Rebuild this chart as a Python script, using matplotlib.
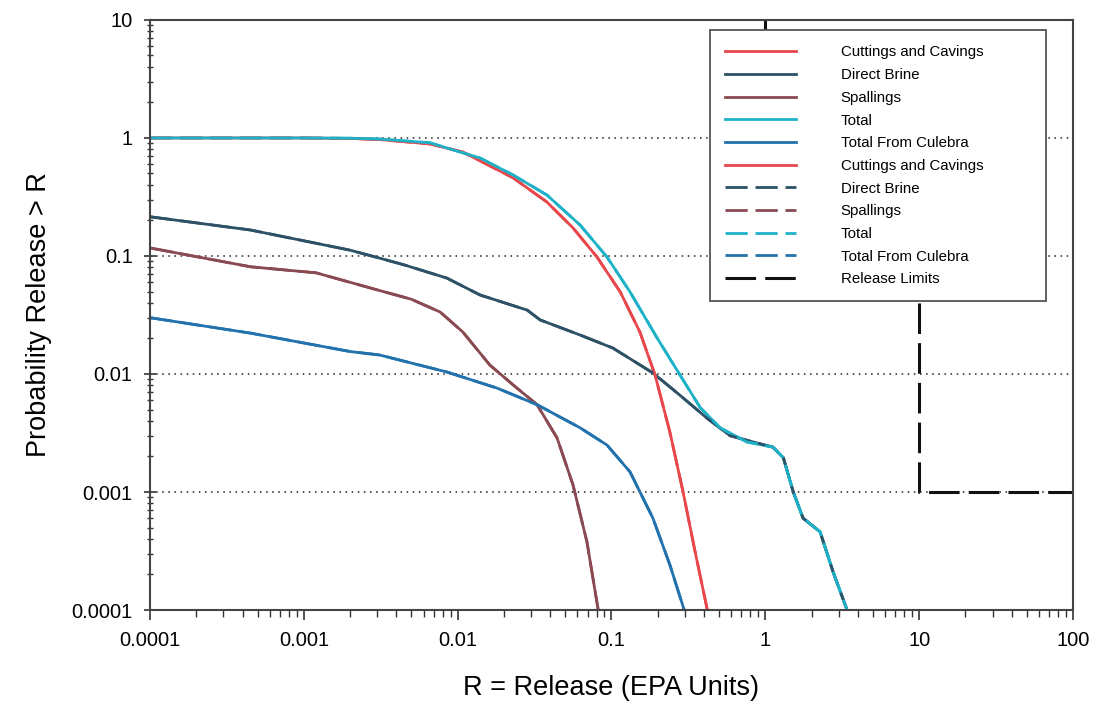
import matplotlib
matplotlib.use('Agg')
import matplotlib.pyplot as plt

plt.rcParams['font.family'] = ['Liberation Sans', 'DejaVu Sans']

# CCDF data (release in EPA units, probability > R)
cuttings_x = [0.0001, 0.001, 0.002, 0.0031, 0.0066, 0.0108, 0.014, 0.0229, 0.038, 0.0562, 0.0805,
              0.114, 0.153, 0.192, 0.24, 0.292, 0.35, 0.42]
cuttings_y = [1.0, 1.0, 0.99, 0.97, 0.89, 0.76, 0.64, 0.46, 0.287, 0.173, 0.098,
              0.0496, 0.0227, 0.0098, 0.0032, 0.001, 0.00031, 0.0001]

brine_x = [0.0001, 0.00045, 0.002, 0.0031, 0.0045, 0.0085, 0.014, 0.0283, 0.0344, 0.0625, 0.102, 0.186,
           0.279, 0.42, 0.59, 0.885, 1.12, 1.31, 1.52, 1.76, 2.27, 2.76, 3.4]
brine_y = [0.215, 0.166, 0.112, 0.096, 0.084, 0.065, 0.0467, 0.0348, 0.0287, 0.0214, 0.0166, 0.0102,
           0.0066, 0.0042, 0.003, 0.0026, 0.0024, 0.00195, 0.001, 0.0006, 0.00046, 0.00021, 0.0001]

spall_x = [0.0001, 0.00045, 0.0012, 0.0031, 0.005, 0.0077, 0.0108, 0.0162, 0.0229, 0.0328, 0.0443,
           0.0562, 0.0692, 0.082]
spall_y = [0.117, 0.081, 0.072, 0.051, 0.043, 0.0335, 0.0227, 0.0119, 0.0081, 0.0055, 0.00287,
           0.00115, 0.00038, 0.0001]

total_x = [0.0001, 0.001, 0.002, 0.0031, 0.0066, 0.014, 0.0229, 0.038, 0.0625, 0.0935, 0.132,
           0.198, 0.279, 0.377, 0.508, 0.762, 1.12, 1.31, 1.52, 1.76, 2.27, 2.76, 3.4]
total_y = [1.0, 1.0, 0.995, 0.98, 0.91, 0.676, 0.486, 0.329, 0.183, 0.098, 0.0496,
           0.0202, 0.0098, 0.0052, 0.0035, 0.00265, 0.0024, 0.00195, 0.001, 0.0006, 0.00046, 0.00021, 0.0001]

culebra_x = [0.0001, 0.00045, 0.002, 0.0031, 0.0085, 0.018, 0.0328, 0.0625, 0.0935, 0.132,
             0.186, 0.24, 0.297]
culebra_y = [0.030, 0.0222, 0.0155, 0.0145, 0.0104, 0.0076, 0.0055, 0.0035, 0.0025, 0.00148,
             0.0006, 0.00024, 0.0001]

# EPA release limits (step)
limit_x = [1, 1, 10, 10, 100]
limit_y = [10, 0.1, 0.1, 0.001, 0.001]

series = [
    ('Cuttings and Cavings', cuttings_x, cuttings_y, '#e8484c'),
    ('Direct Brine', brine_x, brine_y, '#2d5166'),
    ('Spallings', spall_x, spall_y, '#8a4a52'),
    ('Total', total_x, total_y, '#1eb2c8'),
    ('Total From Culebra', culebra_x, culebra_y, '#2272ae'),
]

fig = plt.figure(figsize=(10.98, 7.08), dpi=100)
ax = fig.add_axes([0.1366, 0.1384, 0.8406, 0.8334])

for name, xs, ys, c in series:
    ax.plot(xs, ys, color=c, lw=2.0, label=name, solid_joinstyle='round')
for name, xs, ys, c in series:
    ax.plot(xs, ys, color=c, lw=2.0, dashes=(8, 2.8), label=name)
ax.plot(limit_x, limit_y, color='#111111', lw=2.2, dashes=(10, 3), label='Release Limits')

ax.set_xscale('log')
ax.set_yscale('log')
ax.set_xlim(0.0001, 100)
ax.set_ylim(0.0001, 10)

xt = [0.0001, 0.001, 0.01, 0.1, 1, 10, 100]
yt = [0.0001, 0.001, 0.01, 0.1, 1, 10]
ax.set_xticks(xt)
ax.set_xticklabels(['0.0001', '0.001', '0.01', '0.1', '1', '10', '100'])
ax.set_yticks(yt)
ax.set_yticklabels(['0.0001', '0.001', '0.01', '0.1', '1', '10'])

for gy in [0.001, 0.01, 0.1, 1]:
    ax.axhline(gy, color='#222222', lw=1.1, ls=(0, (1, 3)), zorder=0)

ax.tick_params(axis='both', which='major', labelsize=14.5, length=7, width=1.2, color='#333333', pad=8)
ax.tick_params(axis='x', which='major', direction='out')
ax.tick_params(axis='y', which='major', direction='inout', length=9)
ax.tick_params(axis='x', which='minor', direction='out', length=5, width=1.0, color='#333333')
ax.tick_params(axis='y', which='minor', direction='inout', length=5, width=1.0, color='#333333')

for s in ax.spines.values():
    s.set_color('#444444')
    s.set_linewidth(1.5)

ax.set_xlabel('R = Release (EPA Units)', fontsize=19.5, labelpad=18)
ax.set_ylabel('Probability Release > R', fontsize=19.5, labelpad=14)

leg = ax.legend(loc='upper left', bbox_to_anchor=(0.599, 0.5, 0.380, 0.495), mode='expand',
                fontsize=10.8, handlelength=4.7, handletextpad=3.0, labelspacing=0.58,
                fancybox=False, framealpha=1, edgecolor='#555555', borderpad=1.0)
leg.get_frame().set_linewidth(1.3)
leg.get_lines()[5].set_linestyle('-')

fig.savefig('out.png', dpi=100)
